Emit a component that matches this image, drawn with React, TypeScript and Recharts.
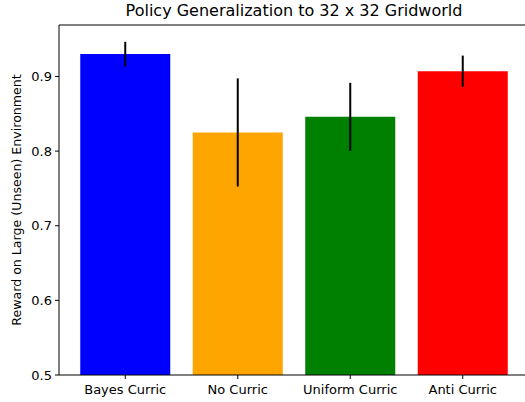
import React from 'react';
import {
    BarChart,
    Bar,
    XAxis,
    YAxis,
    Cell,
    ErrorBar,
    ReferenceLine,
    Label,
} from 'recharts';

const categories = ['Bayes Curric', 'No Curric', 'Uniform Curric', 'Anti Curric'];
const rewards = [0.930, 0.825, 0.846, 0.907];
const errors = [0.0165, 0.0725, 0.0455, 0.021];
const barColors = ['#0000ff', '#ffa500', '#008000', '#ff0000'];
const yTicks = [0.5, 0.6, 0.7, 0.8, 0.9];
const yMin = 0.5;
const yMax = 0.969;

const data = categories.map((name, i) => ({
    name,
    value: rewards[i],
    err: errors[i],
}));

const FONT = '"DejaVu Sans", sans-serif';

const YLabel = (props: any) => {
    const vb = props.viewBox || { y: 25, height: 350 };
    const cy = vb.y + vb.height / 2;
    return (
        <text
            x={16}
            y={cy}
            transform={`rotate(-90, 16, ${cy})`}
            textAnchor="middle"
            dominantBaseline="central"
            fontFamily={FONT}
            fontSize={12.6}
            fill="#000"
        >
            Reward on Large (Unseen) Environment
        </text>
    );
};

const App: React.FC = () => {
    return (
        <div
            style={{
                position: 'absolute',
                left: 0,
                top: 0,
                width: 525,
                height: 402,
                overflow: 'hidden',
                background: '#fff',
            }}
        >
            {/* title */}
            <div
                style={{
                    position: 'absolute',
                    left: 59,
                    width: 470,
                    top: 1,
                    textAlign: 'center',
                    fontFamily: FONT,
                    fontSize: 16,
                    color: '#000',
                    lineHeight: '20px',
                }}
            >
                Policy Generalization to 32 x 32 Gridworld
            </div>
            <BarChart
                width={535}
                height={402}
                data={data}
                margin={{ top: 25, right: 6, bottom: 0, left: 0 }}
                barCategoryGap="10%"
            >
                <XAxis
                    dataKey="name"
                    height={27}
                    padding={{ left: 10, right: 10 }}
                    axisLine={{ stroke: '#000', strokeWidth: 1 }}
                    tickLine={{ stroke: '#000' }}
                    tickSize={4}
                    tickMargin={6}
                    tick={{ fill: '#000', fontSize: 13, fontFamily: FONT }}
                    interval={0}
                />
                <YAxis
                    width={59}
                    domain={[yMin, yMax]}
                    ticks={yTicks}
                    allowDataOverflow
                    axisLine={{ stroke: '#000', strokeWidth: 1 }}
                    tickLine={{ stroke: '#000' }}
                    tickSize={4}
                    tickMargin={3}
                    tick={{ fill: '#000', fontSize: 13, fontFamily: FONT }}
                    tickFormatter={(v: number) => v.toFixed(1)}
                >
                    <Label content={<YLabel />} />
                </YAxis>
                <ReferenceLine y={yMax} stroke="#000" strokeWidth={1} />
                <Bar dataKey="value" isAnimationActive={false}>
                    {data.map((d, i) => (
                        <Cell key={d.name} fill={barColors[i]} />
                    ))}
                    <ErrorBar
                        dataKey="err"
                        width={0}
                        stroke="#000"
                        strokeWidth={2}
                        isAnimationActive={false}
                    />
                </Bar>
            </BarChart>
        </div>
    );
};

export default App;
